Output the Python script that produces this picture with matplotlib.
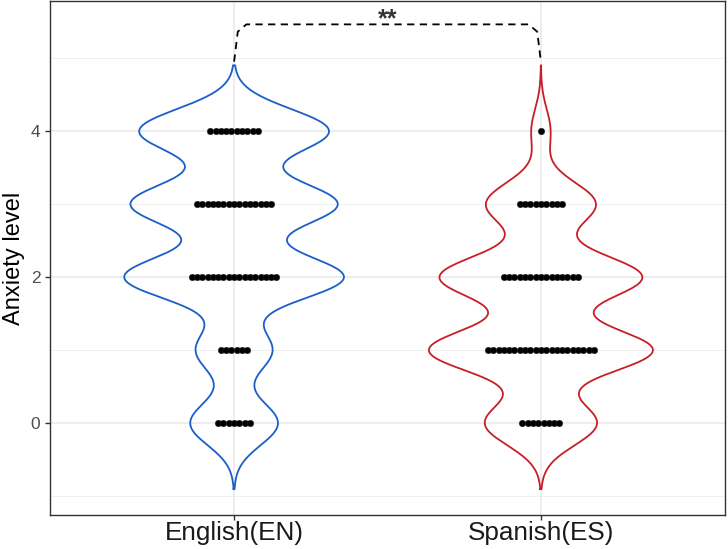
import numpy as np
import matplotlib
matplotlib.use("Agg")
import matplotlib.pyplot as plt

plt.rcParams['font.family'] = ['Liberation Sans', 'DejaVu Sans']

# data: anxiety level -> number of respondents (dots)
groups = ['English(EN)', 'Spanish(ES)']
levels = [0, 1, 2, 3, 4]
counts_en = [7, 6, 17, 15, 10]
counts_es = [8, 21, 15, 9, 1]
# relative weights of the violin outline at each level
violin_en = [6.8, 5.9, 17, 16, 14.7]
violin_es = [10.5, 21, 19, 10.3, 1.8]
colors = ['#1a5fc8', '#c81e28']
sig_label = '**'


def kde(lev, wts, bw=0.3):
    lev = np.asarray(lev, float)
    wts = np.asarray(wts, float)
    grid = np.linspace(lev.min() - 3 * bw, lev.max() + 3 * bw, 512)
    d = (wts[None, :] * np.exp(-0.5 * ((grid[:, None] - lev[None, :]) / bw) ** 2)).sum(axis=1)
    return grid, d


fig = plt.figure(figsize=(7.28, 5.49), dpi=100)
ax = fig.add_axes([50 / 728, 34 / 549, 675 / 728, 514 / 549])

dens = [kde(levels, violin_en), kde(levels, violin_es)]
half_w = [0.358, 0.365]

for i, ((g, d), col) in enumerate(zip(dens, colors)):
    xc = i + 1
    w = d / d.max() * half_w[i]
    xs = np.concatenate([xc - w, (xc + w)[::-1], [xc - w[0]]])
    ys = np.concatenate([g, g[::-1], [g[0]]])
    ax.plot(xs, ys, color=col, lw=1.3, zorder=3)

# dots, stacked centred
step = 0.01726
for i, cnts in enumerate([counts_en, counts_es]):
    for lev, n in zip(levels, cnts):
        offs = (np.arange(n) - (n - 1) / 2) * step
        ax.scatter(i + 1 + offs, np.full(n, lev), s=22, color='black',
                   edgecolors='#222222', linewidths=0.3, zorder=4)

# significance bracket
bx = [1, 1.012, 1.04, 1.96, 1.988, 2]
by = [4.95, 5.36, 5.46, 5.46, 5.36, 4.95]
ax.plot(bx, by, color='black', lw=1.3, ls=(0, (4, 3)), zorder=5)
ax.text(1.5, 5.69, sig_label, ha='center', va='top', fontsize=18,
        fontweight='bold', color='#333333')

ax.set_xlim(0.4, 2.6)
ax.set_ylim(-1.255, 5.78)
ax.set_xticks([1, 2])
ax.set_xticklabels(groups)
ax.set_yticks([0, 2, 4])
ax.set_yticks([-1, 1, 3, 5], minor=True)
ax.grid(True, which='major', color='#e8e8e8', lw=1.1, zorder=0)
ax.grid(True, which='minor', axis='y', color='#ececec', lw=0.6, zorder=0)
ax.set_axisbelow(True)
ax.tick_params(axis='both', which='major', length=3.5, width=1, color='#333333',
               labelcolor='#4d4d4d', labelsize=12.5)
ax.tick_params(axis='x', labelsize=18.8, labelcolor='#1a1a1a', pad=1)
ax.tick_params(which='minor', length=0)
for s in ax.spines.values():
    s.set_color('#333333')
    s.set_linewidth(1)
ax.set_ylabel('Anxiety level', fontsize=17, labelpad=4)

fig.savefig('out.png', dpi=100)
